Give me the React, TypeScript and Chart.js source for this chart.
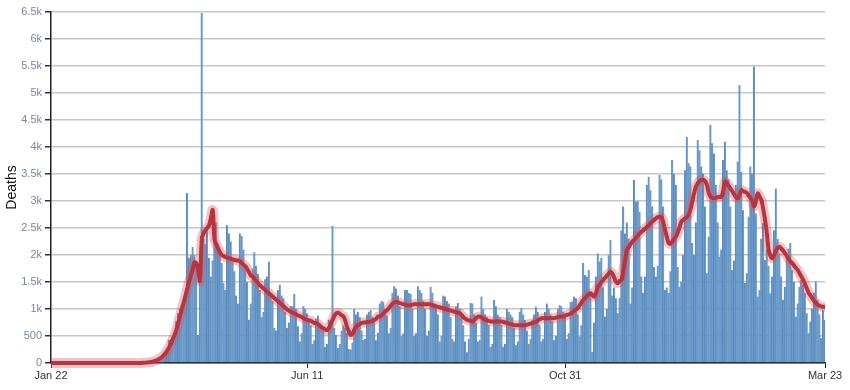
import React, { useEffect, useRef } from 'react';
import { Chart, registerables } from 'chart.js';

Chart.register(...registerables);

// Day 0 = Jan 22, 2020; last day (426) = Mar 23, 2021
const tickDays = [0, 141, 283, 426];
const tickLabels = ['Jan 22', 'Jun 11', 'Oct 31', 'Mar 23'];
const yMax = 6500;
const yStep = 500;

// Daily deaths (bars)
const dailyDeaths = [
  0, 0, 0, 0, 0, 0, 0, 0, 0, 0, 0, 0, 0, 0, 0, 0, 0, 0, 0, 0,
  0, 0, 0, 0, 0, 0, 0, 0, 0, 0, 0, 0, 0, 0, 0, 0, 0, 0,
  1, 1, 4, 1, 3, 2, 1, 2, 3, 4, 5, 7, 9, 11, 9,
  11, 21, 25, 33, 41, 58, 61,
  90, 120, 190, 220, 260, 430, 440,
  460, 520, 780, 920, 1000, 1080, 1120,
  1300, 3150, 1950, 2000, 2150, 2000, 1850,
  520, 1500, 6480, 2300, 2200, 2450, 1950,
  1600, 1900, 2500, 2600, 2200, 2100, 1850,
  1480, 1350, 2550, 2400, 2250, 1950, 1700,
  1250, 1100, 2400, 2350, 2100, 1750, 1500,
  800, 1100, 1750, 2050, 1800, 1650, 1350,
  850, 950, 1550, 1600, 1880, 1300, 1150,
  650, 600, 1350, 1450, 1250, 1200, 950,
  650, 750, 1050, 1050, 1280, 1000, 680,
  400, 550, 1050, 1000, 920, 830, 700,
  350, 420, 820, 880, 740, 700, 600,
  300, 350, 800, 750, 2540, 650, 520,
  280, 350, 600, 700, 650, 560, 260,
  250, 380, 1000, 900, 950, 850, 600,
  430, 450, 900, 950, 980, 850, 750,
  420, 560, 1100, 1150, 1130, 1000, 880,
  550, 650, 1300, 1420, 1380, 1250, 1050,
  500, 550, 1350, 1350, 1300, 1280, 1000,
  500, 550, 1420, 1350, 1300, 1150, 1000,
  500, 600, 1410, 1300, 1100, 1050, 900,
  400, 500, 1250, 1230, 1150, 1100, 850,
  450, 400, 1050, 1110, 1000, 900, 700,
  400, 200, 450, 1110, 1100, 900, 750,
  400, 430, 1230, 1000, 900, 850, 700,
  300, 350, 1170, 1050, 900, 850, 700,
  300, 350, 1000, 950, 900, 850, 650,
  330, 400, 950, 1020, 900, 800, 600,
  350, 450, 800, 900, 1040, 950, 700,
  400, 450, 950, 1100, 1000, 900, 780,
  420, 500, 1000, 1070, 1050, 950, 850,
  450, 550, 1130, 1140, 1230, 1200, 900,
  490, 700, 1850, 1630, 1600, 1720, 1250,
  210, 750, 1600, 2030, 1880, 1950, 1400,
  860, 1000, 2000, 2280, 1250, 1400, 1200,
  920, 1200, 2460, 2900, 2400, 2600, 2300,
  1100, 1400, 3390, 2990, 3000, 2800, 1600,
  1300, 1600, 3300, 3450, 3200, 2900, 1780,
  1600, 1800, 3480, 3400, 2900, 1350, 1400,
  1300, 1700, 3760, 3500, 3300, 1780, 1410,
  1500, 2000, 3570, 4190, 3700, 3640, 2220,
  2000, 2600, 4130, 3940, 3640, 3510, 2900,
  1660, 2340, 4410, 4070, 3880, 3300, 2600,
  1970, 2100, 3760, 4100, 3570, 3400, 2900,
  1720, 1900, 3300, 3730, 5150, 3540, 2830,
  1480, 1660, 2710, 3640, 3510, 5490, 2770,
  1230, 1350, 2300, 2590, 1910, 2100, 1800,
  1290, 1600, 2460, 3230, 2300, 2030, 1600,
  1170, 1410, 2000, 2120, 2220, 1720, 1500,
  860, 1100, 1410, 1540, 1450, 1300, 920,
  550, 770, 1010, 1300, 1510, 1170, 900,
  460, 980, 800,
];

// 7-day average (red line)
const sevenDayAvg = [
  0, 0, 0, 0, 0, 0, 0, 0, 0, 0, 0, 0, 0, 0, 0, 0, 0, 0, 0, 0, 0, 0, 0, 0, 0,
  0, 0, 0, 0, 0, 0, 0, 0, 0, 0, 0, 0, 0, 0, 0, 0, 0, 0, 0, 0, 0, 0, 0, 0, 0,
  3, 5, 7, 10, 14, 20, 27, 35, 50, 65,
  85, 110, 140, 180, 230, 290, 360, 440, 520, 620,
  740, 870, 1000, 1120, 1240, 1380, 1500, 1620, 1740, 1860,
  1850, 1720, 1520, 2300, 2400, 2460, 2500, 2550, 2680, 2830,
  2280, 2200, 2120, 2050, 2000, 1980, 1960, 1950, 1940, 1930,
  1920, 1910, 1900, 1900, 1880, 1850, 1820, 1790, 1740, 1680,
  1620, 1600, 1560, 1520, 1480, 1440, 1410, 1380, 1350, 1320,
  1290, 1260, 1230, 1200, 1170, 1140, 1110, 1080, 1050, 1020,
  990, 970, 950, 930, 920, 900, 880, 870, 850, 830,
  810, 800, 790, 780, 760, 740, 740, 720, 690, 660,
  640, 620, 610, 650, 730, 800, 870, 920, 930, 910,
  880, 860, 780, 660, 580, 520, 550, 620, 670, 700,
  720, 740, 750, 750, 760, 760, 770, 780, 800, 820,
  860, 860, 890, 920, 950, 980, 1020, 1060, 1100, 1120,
  1130, 1120, 1110, 1100, 1090, 1080, 1070, 1070, 1070, 1080,
  1090, 1090, 1090, 1090, 1090, 1090, 1090, 1090, 1090, 1080,
  1070, 1060, 1050, 1040, 1030, 1020, 1010, 1000, 990, 980,
  970, 960, 950, 940, 930, 920, 890, 850, 820, 800,
  790, 780, 770, 790, 830, 860, 860, 840, 820, 800,
  790, 780, 770, 770, 770, 770, 770, 770, 770, 760,
  750, 740, 730, 720, 710, 700, 700, 700, 700, 700,
  700, 700, 710, 720, 730, 740, 750, 770, 790, 810,
  830, 830, 830, 830, 830, 830, 830, 830, 840, 850,
  860, 860, 860, 880, 890, 900, 910, 940, 970, 990,
  1020, 1070, 1120, 1170, 1200, 1240, 1270, 1290, 1260, 1230,
  1300, 1410, 1450, 1500, 1540, 1580, 1620, 1660, 1690, 1650,
  1580, 1500, 1480, 1520, 1540, 1700, 1900, 2090, 2150, 2200,
  2250, 2280, 2320, 2360, 2400, 2430, 2460, 2490, 2520, 2550,
  2590, 2620, 2650, 2680, 2700, 2710, 2700, 2600, 2460, 2330,
  2220, 2210, 2250, 2300, 2340, 2420, 2520, 2620, 2650, 2680,
  2700, 2750, 2850, 3000, 3150, 3270, 3330, 3370, 3390, 3390,
  3370, 3300, 3150, 3080, 3060, 3050, 3060, 3070, 3080, 3080,
  3200, 3360, 3330, 3280, 3230, 3180, 3120, 3070, 3050, 3120,
  3200, 3180, 3170, 3150, 3100, 3050, 3000, 2900, 3000, 3140,
  3080, 3020, 2850, 2650, 2400, 2090, 1980, 1940, 2000, 2080,
  2130, 2150, 2120, 2080, 2030, 1980, 1930, 1880, 1850, 1800,
  1760, 1720, 1660, 1600, 1540, 1460, 1380, 1300, 1250, 1200,
  1150, 1110, 1080, 1060, 1050, 1040, 1040,
];

const FONT = '"Liberation Sans", Arial, sans-serif';

export default function App() {
  const ref = useRef<HTMLCanvasElement | null>(null);

  useEffect(() => {
    document.body.style.margin = '0';
    if (!ref.current) return;
    const labels = dailyDeaths.map((_, i) => {
      const d = new Date(2020, 0, 22 + i);
      return `${d.getFullYear()}-${d.getMonth() + 1}-${d.getDate()}`;
    });
    const chart = new Chart(ref.current, {
      type: 'bar',
      data: {
        labels,
        datasets: [
          {
            type: 'line',
            data: sevenDayAvg,
            borderColor: '#b8343f',
            borderWidth: 4,
            pointRadius: 0,
            tension: 0.4,
            fill: false,
            clip: false as any,
            order: 0,
          },
          {
            type: 'line',
            data: sevenDayAvg,
            borderColor: 'rgba(215, 85, 95, 0.35)',
            borderWidth: 10,
            pointRadius: 0,
            tension: 0.4,
            fill: false,
            clip: false as any,
            order: 1,
          },
          {
            type: 'bar',
            data: dailyDeaths,
            backgroundColor: '#6a9bcb',
            borderColor: '#4a7cae',
            borderWidth: { left: 0.6, right: 0, top: 0, bottom: 0 },
            borderSkipped: false,
            barPercentage: 1,
            categoryPercentage: 1,
            order: 2,
          },
        ],
      },
      options: {
        responsive: false,
        animation: false,
        events: [],
        layout: { padding: { top: 12, right: 25, left: 0, bottom: 0 } },
        plugins: {
          legend: { display: false },
          tooltip: { enabled: false },
        },
        scales: {
          x: {
            type: 'category',
            offset: false,
            afterBuildTicks: (scale: any) => {
              scale.ticks = tickDays.map((v) => ({ value: v }));
            },
            afterFit: (scale: any) => {
              scale.height = 27;
            },
            ticks: {
              autoSkip: false,
              maxRotation: 0,
              color: '#333',
              padding: 1,
              font: { family: FONT, size: 11 },
              callback: (_v: any, i: number) => tickLabels[i],
            },
            grid: {
              display: true,
              offset: false,
              drawOnChartArea: false,
              drawTicks: true,
              tickLength: 5,
              tickColor: '#222',
            },
            border: { color: '#222', width: 1.5 },
          },
          y: {
            min: 0,
            max: yMax,
            afterFit: (scale: any) => {
              scale.width = 51;
            },
            ticks: {
              stepSize: yStep,
              color: '#7689a0',
              padding: 3,
              font: { family: FONT, size: 11 },
              callback: (v: any) => (Number(v) >= 1000 ? `${Number(v) / 1000}k` : `${v}`),
            },
            grid: {
              color: '#c6c6c6',
              lineWidth: 1.5,
              tickLength: 6,
              tickColor: '#333',
            },
            border: { color: '#222', width: 1.5 },
            title: {
              display: true,
              text: 'Deaths',
              color: '#111',
              font: { family: FONT, size: 14 },
              padding: { top: 4, bottom: 2 },
            },
          },
        },
      },
    });
    return () => chart.destroy();
  }, []);

  return (
    <div style={{ width: 850, height: 390 }}>
      <canvas ref={ref} width={850} height={390} />
    </div>
  );
}
